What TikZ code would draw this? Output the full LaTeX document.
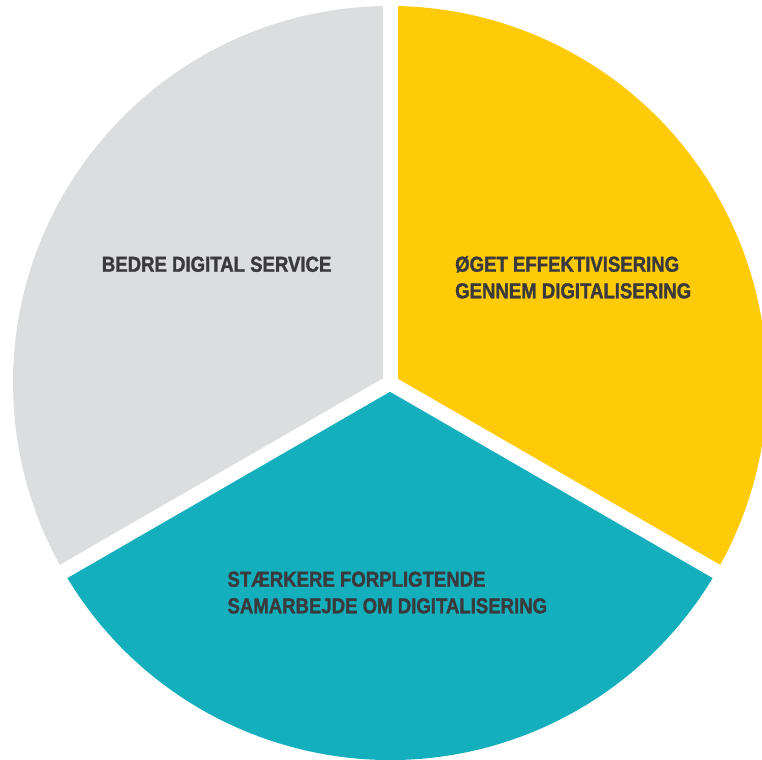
\documentclass[tikz,border=0pt]{standalone}
\usepackage{fontspec}
\usetikzlibrary{calc}
\newfontfamily\labelfont[FakeStretch=0.86,FakeBold=1.5]{Liberation Sans}
\definecolor{piegray}{HTML}{DCDDDF}
\definecolor{pieyellow}{HTML}{FFCB08}
\definecolor{pieteal}{HTML}{14AFBD}
\definecolor{labeltext}{HTML}{3A3A3C}
\tikzset{
  sector/.style={draw=none},
  gap/.style={draw=white, line width=15bp},
  pielabel/.style={anchor=base west, inner sep=0pt, align=left, text=labeltext,
    font=\labelfont\bfseries\fontsize{21.6bp}{26.6bp}\selectfont}
}
\begin{document}
\begin{tikzpicture}[x=1bp,y=1bp]
\useasboundingbox (0,0) rectangle (762,760);
\clip (0,0) rectangle (762,760);
\coordinate (c) at (390,377);
\fill[sector, piegray] (c) -- ++(90:377bp) arc[start angle=90, end angle=210, radius=377bp] -- cycle;
\fill[sector, pieteal] (c) -- ++(210:377bp) arc[start angle=210, end angle=330, radius=377bp] -- cycle;
\fill[sector, pieyellow] (c) -- ++(-30:377bp) arc[start angle=-30, end angle=90, radius=377bp] -- cycle;
\coordinate (g1) at ($(c)+(90:400bp)$);
\coordinate (g2) at ($(c)+(210:400bp)$);
\coordinate (g3) at ($(c)+(330:400bp)$);
\draw[gap] (c) -- (g1);
\draw[gap] (c) -- (g2);
\draw[gap] (c) -- (g3);
\node[pielabel] (service) at (101.7,488.3) {BEDRE DIGITAL SERVICE};
\node[pielabel] (effekt) at (455,461.7) {ØGET EFFEKTIVISERING\\GENNEM DIGITALISERING};
\node[pielabel] (samarb) at (227.3,146.7) {STÆRKERE FORPLIGTENDE\\SAMARBEJDE OM DIGITALISERING};
\end{tikzpicture}
\end{document}
